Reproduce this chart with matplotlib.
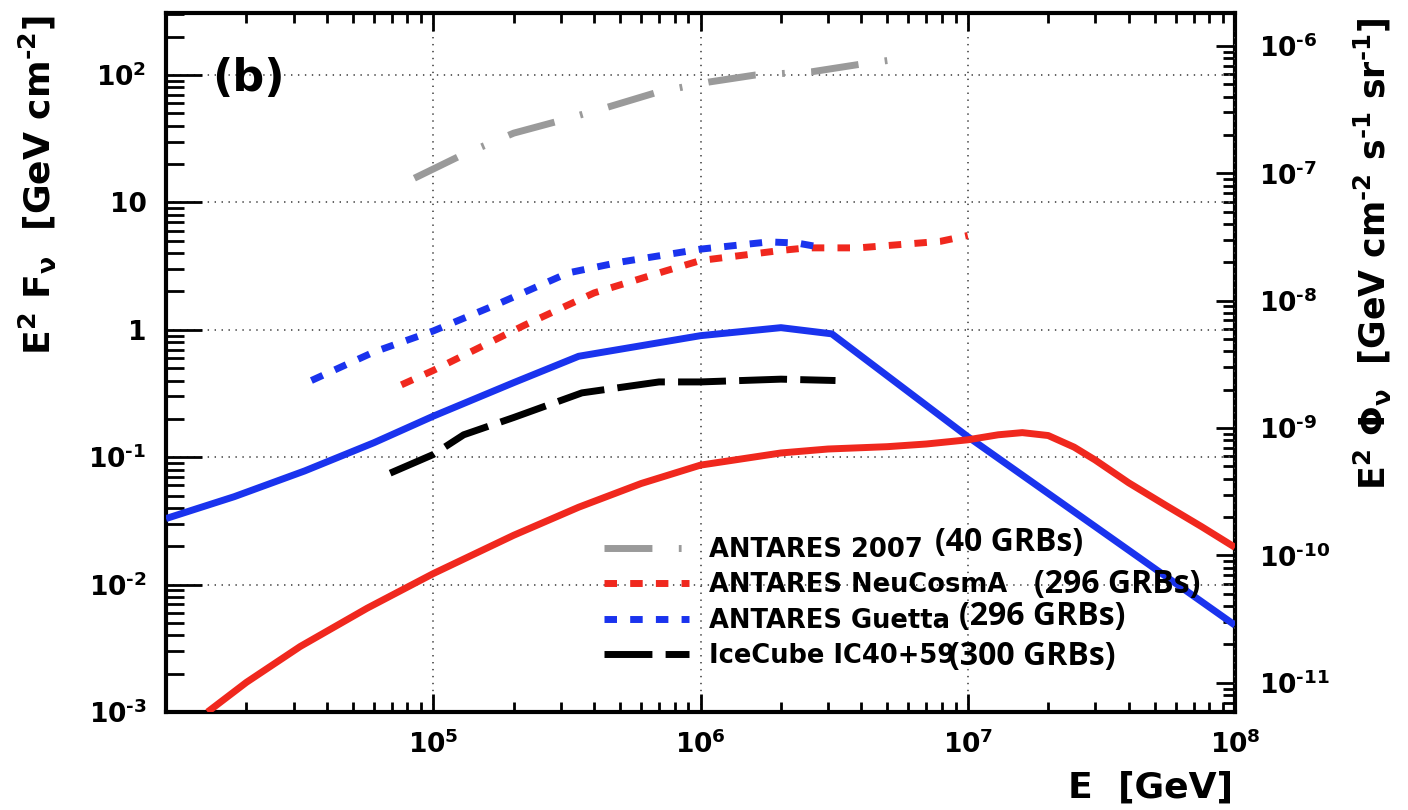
import math
import matplotlib
matplotlib.use('Agg')
import matplotlib.pyplot as plt
from matplotlib.ticker import LogLocator, FixedLocator, FuncFormatter, NullFormatter

plt.rcParams['font.family'] = 'DejaVu Sans'
plt.rcParams['font.weight'] = 'bold'
plt.rcParams['mathtext.fontset'] = 'dejavusans'
plt.rcParams['mathtext.default'] = 'bf'
plt.rcParams['lines.scale_dashes'] = False

# ANTARES 2007 upper limit (40 GRBs)
e_2007 = [8.5e4, 1.25e5, 2e5, 3e5, 4.5e5, 7e5, 1.07e6, 1.6e6, 2.6e6, 4e6, 5e6]
f_2007 = [15.5, 23, 35, 44, 56, 74, 88, 100, 106, 122, 130]

# ANTARES NeuCosmA limit (296 GRBs)
e_neu_lim = [7.6e4, 1e5, 2.2e5, 4e5, 7.4e5, 1e6, 2e6, 2.5e6, 3.9e6, 7.9e6, 1e7]
f_neu_lim = [0.37, 0.48, 1.09, 1.95, 2.9, 3.5, 4.2, 4.4, 4.4, 4.95, 5.5]

# ANTARES Guetta limit (296 GRBs)
e_gue_lim = [3.5e4, 6e4, 1e5, 1.75e5, 3.2e5, 5e5, 1e6, 1.8e6, 2.3e6, 2.9e6]
f_gue_lim = [0.40, 0.67, 0.98, 1.6, 2.8, 3.4, 4.3, 4.9, 4.8, 4.4]

# IceCube IC40+59 limit (300 GRBs)
e_ic = [6.9e4, 1e5, 1.3e5, 2e5, 3.6e5, 7e5, 1e6, 2e6, 3.2e6]
f_ic = [0.075, 0.105, 0.15, 0.205, 0.32, 0.39, 0.39, 0.41, 0.40]

# expected fluxes (solid curves)
e_gue_pred = [1e4, 1.8e4, 3.3e4, 6e4, 1e5, 2e5, 3.5e5, 1e6, 2e6, 3.1e6, 1e7, 1e8]
f_gue_pred = [0.033, 0.049, 0.078, 0.13, 0.21, 0.385, 0.62, 0.9, 1.04, 0.93, 0.145, 0.0048]

e_neu_pred = [1.43e4, 2e4, 3.18e4, 5.66e4, 1e5, 2e5, 3.5e5, 6e5, 1e6, 2e6, 3e6, 5e6,
              7e6, 1e7, 1.3e7, 1.6e7, 2e7, 2.5e7, 3e7, 4e7, 5.5e7, 7.5e7, 1e8]
f_neu_pred = [0.001, 0.00171, 0.00327, 0.00653, 0.0122, 0.0244, 0.0405, 0.0622, 0.0867,
              0.108, 0.116, 0.121, 0.127, 0.137, 0.15, 0.156, 0.148, 0.12, 0.095,
              0.063, 0.042, 0.0285, 0.0196]

legend_labels = ['ANTARES 2007', 'ANTARES NeuCosmA', 'ANTARES Guetta', 'IceCube IC40+59']
grb_notes = ['(40 GRBs)', '(296 GRBs)', '(296 GRBs)', '(300 GRBs)']

x_major = [1e5, 1e6, 1e7, 1e8]
y_major = [1e-3, 1e-2, 1e-1, 1, 10, 100]
y_labels = [r'10$^{\text{-}3}$', r'10$^{\text{-}2}$', r'10$^{\text{-}1}$', '1', '10', '10$^{2}$']
phi_major = [1e-11, 1e-10, 1e-9, 1e-8, 1e-7, 1e-6]
flux_factor = 5.9e-9

RED = '#f0281e'
BLUE = '#1a33ee'
GRAY = '#9a9a9a'


def pow_label(v, pos=None):
    n = round(math.log10(v))
    if n < 0:
        return r'10$^{\text{-}%d}$' % (-n)
    return '10$^{%d}$' % n


fig = plt.figure(figsize=(14.08, 8.10), dpi=100)
ax = fig.add_axes([166 / 1408, 1 - 712 / 810, (1235 - 166) / 1408, (712 - 13) / 810])
ax.set_xscale('log')
ax.set_yscale('log')
ax.set_xlim(1e4, 1e8)
ax.set_ylim(1e-3, 307)

lw = 5
ax.plot(e_gue_pred, f_gue_pred, color=BLUE, lw=lw, solid_capstyle='butt',
        solid_joinstyle='round', zorder=3)
ax.plot(e_neu_pred, f_neu_pred, color=RED, lw=lw, solid_capstyle='butt',
        solid_joinstyle='round', zorder=3)
l_2007, = ax.plot(e_2007, f_2007, color=GRAY, lw=lw, dashes=(34.5, 19, 2, 19), zorder=3)
l_neu, = ax.plot(e_neu_lim, f_neu_lim, color=RED, lw=lw, dashes=(9, 9.5), zorder=3)
l_gue, = ax.plot(e_gue_lim, f_gue_lim, color=BLUE, lw=lw, dashes=(9, 9.5), zorder=3)
l_ic, = ax.plot(e_ic, f_ic, color='black', lw=lw, dashes=(34.5, 9.5), zorder=3)

# axes frame and ticks
for sp in ax.spines.values():
    sp.set_linewidth(3)
ax.spines['right'].set_visible(False)

ax.xaxis.set_major_locator(FixedLocator(x_major))
ax.xaxis.set_minor_locator(LogLocator(base=10, subs=range(2, 10), numticks=20))
ax.xaxis.set_major_formatter(FuncFormatter(pow_label))
ax.xaxis.set_minor_formatter(NullFormatter())
ax.yaxis.set_major_locator(FixedLocator(y_major))
ax.yaxis.set_major_formatter(FuncFormatter(lambda v, p: y_labels[p] if p is not None and p < len(y_labels) else ''))
ax.yaxis.set_minor_locator(LogLocator(base=10, subs=range(2, 10), numticks=20))
ax.yaxis.set_minor_formatter(NullFormatter())

ax.tick_params(axis='x', which='both', direction='in', top=True, bottom=True, width=2,
               labelsize=19, pad=13)
ax.tick_params(axis='x', which='major', length=13)
ax.tick_params(axis='x', which='minor', length=7)
ax.tick_params(axis='y', which='both', direction='in', left=True, right=False, width=2,
               labelsize=19, pad=14)
ax.tick_params(axis='y', which='major', length=26)
ax.tick_params(axis='y', which='minor', length=13)

ax.grid(True, which='major', color='#555555', lw=1.3, ls=(0, (1, 4)))
ax.set_axisbelow(True)

# flux per steradian on the right-hand axis
sec = ax.secondary_yaxis('right', functions=(lambda y: y * flux_factor,
                                             lambda y: y / flux_factor))
sec.spines['right'].set_linewidth(3)
sec.yaxis.set_major_locator(FixedLocator(phi_major))
sec.yaxis.set_major_formatter(FuncFormatter(pow_label))
sec.yaxis.set_minor_locator(LogLocator(base=10, subs=range(2, 10), numticks=20))
sec.yaxis.set_minor_formatter(NullFormatter())
sec.tick_params(which='both', direction='in', width=2, labelsize=19, pad=17)
sec.tick_params(which='major', length=14)
sec.tick_params(which='minor', length=8.5)

ax.text(0.043, 0.907, '(b)', transform=ax.transAxes, fontsize=32, fontweight='bold',
        ha='left', va='center')

fig.text(38 / 1408, 1 - 15 / 810, r'E$^{2}$ F$_{\nu}$  [GeV cm$^{\text{-}2}$]', rotation=90,
         ha='center', va='top', fontsize=26, fontweight='bold')
fig.text(1373 / 1408, 1 - 18 / 810,
         r'E$^{2}$ $\Phi_{\nu}$  [GeV cm$^{\text{-}2}$ s$^{\text{-}1}$ sr$^{\text{-}1}$]',
         rotation=90, ha='center', va='top', fontsize=25, fontweight='bold')
fig.text(1233 / 1408, 1 - 798 / 810, 'E  [GeV]', ha='right', va='baseline',
         fontsize=26, fontweight='bold')

leg = ax.legend([l_2007, l_neu, l_gue, l_ic], legend_labels, loc='upper left',
                bbox_to_anchor=(604 / 1408, 1 - 537 / 810), bbox_transform=fig.transFigure,
                frameon=False, fontsize=18.5, handlelength=3.3, handletextpad=0.78,
                labelspacing=0.36, borderpad=0, borderaxespad=0)

note_pos = [(935, 543), (1034, 584), (959, 617), (949, 656)]
for (px, py), note in zip(note_pos, grb_notes):
    fig.text(px / 1408, 1 - py / 810, note, family='Open Sans', fontweight='bold',
             fontsize=23, ha='left', va='center')

fig.savefig('out.png', dpi=100)
